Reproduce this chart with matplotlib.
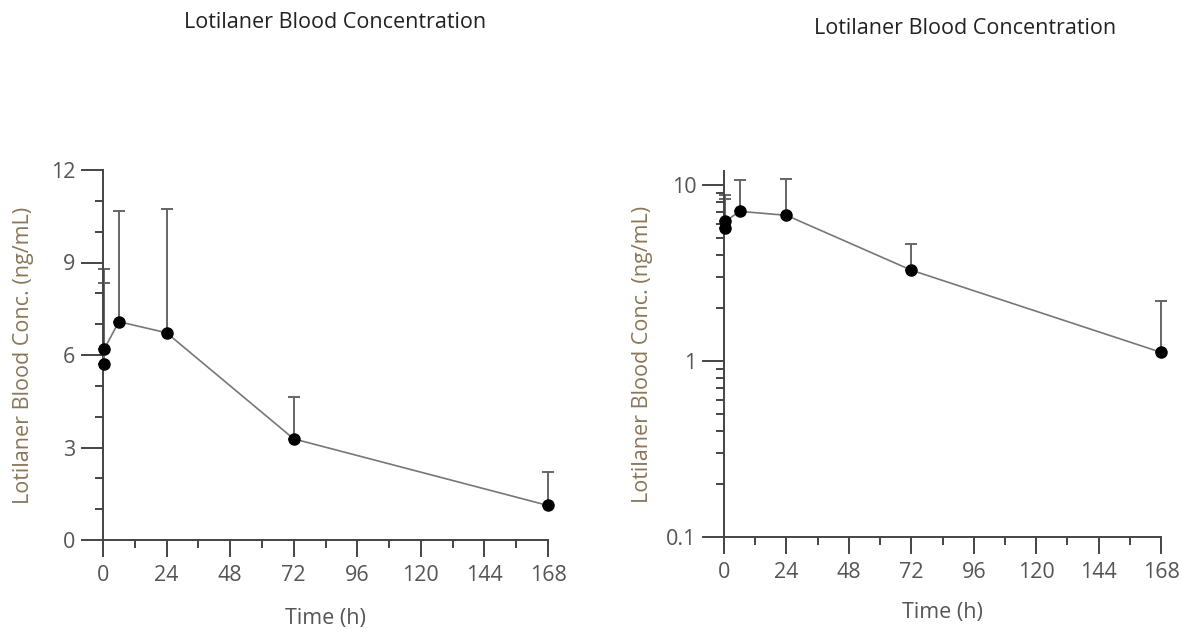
import matplotlib
matplotlib.use('Agg')
import matplotlib.pyplot as plt
from matplotlib.ticker import MultipleLocator, FixedLocator, NullFormatter, LogLocator

plt.rcParams['font.family'] = ['Open Sans', 'DejaVu Sans']

# data
tiempo = [0.25, 0.5, 6, 24, 72, 168]
conc = [5.7, 6.2, 7.08, 6.72, 3.28, 1.12]
sd = [2.65, 2.6, 3.6, 4.03, 1.36, 1.08]

titulo = 'Lotilaner Blood Concentration'
ylab = 'Lotilaner Blood Conc. (ng/mL)'
xlab = 'Time (h)'
xticks = [0, 24, 48, 72, 96, 120, 144, 168]

col_lab = '#8a7658'
col_tick = '#555555'
col_eje = '#444444'

fig = plt.figure(figsize=(11.82, 6.32), dpi=100)
ax1 = fig.add_axes([103/1182, 92/632, 445/1182, 370/632])
ax2 = fig.add_axes([724/1182, 95/632, 437/1182, 366/632])

for ax, lp_x, lp_y in ((ax1, 16, 12), (ax2, 14, 9)):
    ax.errorbar(tiempo, conc, yerr=[[0]*len(sd), sd], fmt='none', ecolor='#666666',
                elinewidth=1.4, capsize=4.5, capthick=1.4, clip_on=False, zorder=2)
    ax.plot(tiempo, conc, color='#777777', lw=1.2, marker='o', ms=8, mfc='black',
            mec='black', clip_on=False, zorder=3)
    ax.spines['top'].set_visible(False)
    ax.spines['right'].set_visible(False)
    for s in ('left', 'bottom'):
        ax.spines[s].set_color(col_eje)
        ax.spines[s].set_linewidth(1.4)
    ax.set_xlim(0, 168)
    ax.xaxis.set_major_locator(FixedLocator(xticks))
    ax.xaxis.set_minor_locator(MultipleLocator(12))
    ax.tick_params(which='major', length=12, width=1.4, color=col_eje,
                   labelsize=15.5, labelcolor=col_tick, pad=4)
    ax.tick_params(which='minor', length=6, width=1.4, color=col_eje)
    ax.tick_params(axis='x', pad=6)
    ax.set_xlabel(xlab, fontsize=15.5, color=col_tick, labelpad=lp_x)
    ax.set_ylabel(ylab, fontsize=15.5, color=col_lab, labelpad=lp_y)

ax1.set_ylim(0, 12)
ax1.yaxis.set_major_locator(MultipleLocator(3))
ax1.yaxis.set_minor_locator(MultipleLocator(1))
ax1.tick_params(axis='y', which='major', length=16)

ax2.set_yscale('log')
ax2.set_ylim(0.1, 12)
ax2.yaxis.set_major_locator(FixedLocator([0.1, 1, 10]))
ax2.set_yticklabels(['0.1', '1', '10'])
ax2.yaxis.set_minor_locator(LogLocator(base=10, subs=range(2, 10)))
ax2.yaxis.set_minor_formatter(NullFormatter())
ax2.tick_params(axis='y', which='major', length=16)

fig.text(335/1182, 1 - 22/632, titulo, ha='center', va='center', fontsize=15.5, color='#222222')
fig.text(965/1182, 1 - 28/632, titulo, ha='center', va='center', fontsize=15.5, color='#222222')

fig.savefig('out.png', dpi=100)
